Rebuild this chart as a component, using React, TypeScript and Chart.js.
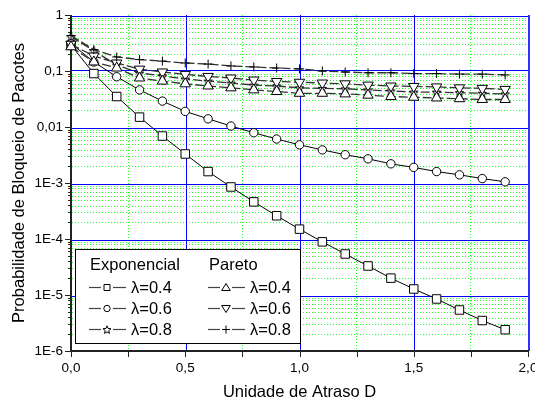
import React, { useEffect, useRef } from 'react';
import { Chart, registerables } from 'chart.js';

Chart.register(...registerables);

// ---- data ----
const delays = [0, 0.1, 0.2, 0.3, 0.4, 0.5, 0.6, 0.7, 0.8, 0.9, 1.0, 1.1, 1.2, 1.3, 1.4, 1.5, 1.6, 1.7, 1.8, 1.9];

const expL04 = [0.29, 0.09, 0.035, 0.015, 0.0069, 0.0033, 0.0016, 8.5e-4, 4.6e-4, 2.6e-4, 1.5e-4, 8.9e-5, 5.4e-5, 3.3e-5, 2.0e-5, 1.28e-5, 8.5e-6, 5.4e-6, 3.5e-6, 2.4e-6];
const expL06 = [0.31, 0.145, 0.079, 0.046, 0.029, 0.019, 0.014, 0.0104, 0.0079, 0.0061, 0.0048, 0.0039, 0.0032, 0.0027, 0.0022, 0.0019, 0.0016, 0.0014, 0.0012, 0.00105];
const expL08 = [0.41, 0.23, 0.128, 0.092, 0.082, 0.072, 0.066, 0.061, 0.056, 0.054, 0.050, 0.049, 0.048, 0.046, 0.044, 0.042, 0.042, 0.041, 0.040, 0.039];
const parL04 = [0.27, 0.145, 0.113, 0.075, 0.066, 0.059, 0.054, 0.050, 0.046, 0.043, 0.040, 0.040, 0.039, 0.037, 0.035, 0.034, 0.033, 0.032, 0.031, 0.031];
const parL06 = [0.30, 0.185, 0.139, 0.108, 0.096, 0.087, 0.080, 0.075, 0.069, 0.065, 0.063, 0.061, 0.059, 0.056, 0.054, 0.053, 0.052, 0.050, 0.049, 0.047];
const parL08 = [0.43, 0.24, 0.178, 0.16, 0.15, 0.139, 0.133, 0.123, 0.118, 0.113, 0.109, 0.100, 0.096, 0.093, 0.093, 0.090, 0.090, 0.088, 0.088, 0.085];

const groupHeaders = ['Exponencial', 'Pareto'];
const seriesLabels = ['λ=0.4', 'λ=0.6', 'λ=0.8'];

const xTickValues = [0, 0.5, 1.0, 1.5, 2.0];
const xTickLabels = ['0,0', '0,5', '1,0', '1,5', '2,0'];
const xMinorValues = [0.25, 0.75, 1.25, 1.75];
const yTickValues = [1e-6, 1e-5, 1e-4, 1e-3, 0.01, 0.1, 1];
const yTickLabels = ['1E-6', '1E-5', '1E-4', '1E-3', '0,01', '0,1', '1'];

const xTitle = 'Unidade de Atraso D';
const yTitle = 'Probabilidade de Bloqueio de Pacotes';

const FONT = '"Liberation Sans", Arial, sans-serif';

function makeStar(size: number) {
  const c = document.createElement('canvas');
  c.width = size;
  c.height = size;
  const g = c.getContext('2d')!;
  const cx = size / 2, cy = size / 2 + 0.5;
  const R = size / 2 - 1, r = R * 0.45;
  g.beginPath();
  for (let i = 0; i < 10; i++) {
    const a = -Math.PI / 2 + (i * Math.PI) / 5;
    const rad = i % 2 === 0 ? R : r;
    const px = cx + Math.cos(a) * rad, py = cy + Math.sin(a) * rad;
    if (i === 0) g.moveTo(px, py); else g.lineTo(px, py);
  }
  g.closePath();
  g.fillStyle = '#fff';
  g.fill();
  g.strokeStyle = '#000';
  g.lineWidth = 1;
  g.stroke();
  return c;
}

function drawMarker(ctx: CanvasRenderingContext2D, kind: string, x: number, y: number) {
  ctx.save();
  ctx.strokeStyle = '#000';
  ctx.fillStyle = '#fff';
  ctx.lineWidth = 1;
  ctx.setLineDash([]);
  ctx.beginPath();
  if (kind === 'rect') {
    ctx.rect(x - 3, y - 3, 6, 6);
  } else if (kind === 'circle') {
    ctx.arc(x, y, 3.2, 0, Math.PI * 2);
  } else if (kind === 'triUp') {
    ctx.moveTo(x, y - 4); ctx.lineTo(x + 4.3, y + 3); ctx.lineTo(x - 4.3, y + 3); ctx.closePath();
  } else if (kind === 'triDown') {
    ctx.moveTo(x, y + 4); ctx.lineTo(x + 4.3, y - 3); ctx.lineTo(x - 4.3, y - 3); ctx.closePath();
  } else if (kind === 'star') {
    const R = 4.2, r = 1.9;
    for (let i = 0; i < 10; i++) {
      const a = -Math.PI / 2 + (i * Math.PI) / 5;
      const rad = i % 2 === 0 ? R : r;
      const px = x + Math.cos(a) * rad, py = y + 0.5 + Math.sin(a) * rad;
      if (i === 0) ctx.moveTo(px, py); else ctx.lineTo(px, py);
    }
    ctx.closePath();
  } else if (kind === 'cross') {
    ctx.moveTo(x - 4, y); ctx.lineTo(x + 4, y); ctx.moveTo(x, y - 4); ctx.lineTo(x, y + 4);
  }
  if (kind !== 'cross') ctx.fill();
  ctx.stroke();
  ctx.restore();
}

function seg(ctx: CanvasRenderingContext2D, x1: number, y1: number, x2: number, y2: number, color: string, width: number, dash: number[]) {
  ctx.save();
  ctx.strokeStyle = color;
  ctx.lineWidth = width;
  ctx.setLineDash(dash);
  ctx.beginPath();
  ctx.moveTo(x1, y1);
  ctx.lineTo(x2, y2);
  ctx.stroke();
  ctx.restore();
}

// snap a colored 1px line onto an even pixel so it keeps its hue in the photograph
function evenPix(p: number) {
  let i = Math.round(p);
  if (i % 2 !== 0) i = p >= i ? i + 1 : i - 1;
  return i + 0.5;
}

const gridPlugin = {
  id: 'originGrid',
  beforeDatasetsDraw(chart: any) {
    const { ctx, chartArea, scales } = chart;
    const { left, right, top, bottom } = chartArea;
    const x = scales.x, y = scales.y;
    const GREEN = '#22ff22';
    const BLUE = '#0000ff';
    // minor green dotted
    for (let d = -6; d < 0; d++) {
      for (let k = 2; k <= 9; k++) {
        const py = evenPix(y.getPixelForValue(k * Math.pow(10, d)));
        seg(ctx, left + 1, py, right, py, GREEN, 1, [1, 2]);
      }
    }
    for (const v of xMinorValues) {
      const px = evenPix(x.getPixelForValue(v));
      seg(ctx, px, top, px, bottom, GREEN, 1, [1, 2]);
    }
    // major blue
    for (const v of yTickValues) {
      if (v === yTickValues[0]) continue;
      const py = evenPix(y.getPixelForValue(v));
      seg(ctx, left, py, right, py, BLUE, 1, []);
    }
    for (const v of xTickValues) {
      if (v === xTickValues[0]) continue;
      const last = v === xTickValues[xTickValues.length - 1];
      if (last) {
        const i0 = Math.floor(x.getPixelForValue(v) / 2) * 2;
        ctx.save();
        ctx.fillStyle = '#3030ff';
        ctx.fillRect(i0, top, 2, bottom - top);
        ctx.restore();
      } else {
        const px = evenPix(x.getPixelForValue(v));
        seg(ctx, px, top, px, bottom, BLUE, 1, []);
      }
    }
    // axes
    seg(ctx, left, top, left, bottom + 1, '#222', 2, []);
    seg(ctx, left - 1, bottom, right + 1, bottom, '#222', 2, []);
    // x ticks
    for (const v of [...xTickValues, ...xMinorValues]) {
      const px = Math.round(x.getPixelForValue(v)) + 0.5;
      seg(ctx, px, bottom, px, bottom + 6, '#222', 1, []);
    }
    // y ticks
    for (const v of yTickValues) {
      const py = Math.round(y.getPixelForValue(v)) + 0.5;
      seg(ctx, left - 6, py, left, py, '#222', 1, []);
    }
    for (let d = -6; d < 0; d++) {
      for (let k = 2; k <= 9; k++) {
        const py = Math.round(y.getPixelForValue(k * Math.pow(10, d))) + 0.5;
        seg(ctx, left - 3, py, left, py, '#222', 1, []);
      }
    }
  },
};

const legendKinds = [
  ['rect', 'circle', 'star'],
  ['triUp', 'triDown', 'cross'],
];

const legendPlugin = {
  id: 'originLegend',
  afterDraw(chart: any) {
    const ctx = chart.ctx as CanvasRenderingContext2D;
    ctx.save();
    const bx = 75.5, by = 249.5, bw = 225, bh = 94;
    ctx.fillStyle = '#fff';
    ctx.fillRect(bx, by, bw, bh);
    ctx.strokeStyle = '#000';
    ctx.lineWidth = 1;
    ctx.setLineDash([]);
    ctx.strokeRect(bx, by, bw, bh);
    ctx.font = `16.5px ${FONT}`;
    ctx.fillStyle = '#000';
    ctx.textBaseline = 'middle';
    const colX = [89, 208];
    const rowY = [287, 308, 329];
    groupHeaders.forEach((h, c) => ctx.fillText(h, colX[c] + 1, 265));
    for (let c = 0; c < 2; c++) {
      for (let r = 0; r < 3; r++) {
        const lx = colX[c], ly = rowY[r] + 0.5;
        seg(ctx, lx, ly, lx + 12, ly, '#444', 1.2, []);
        seg(ctx, lx + 24, ly, lx + 37, ly, '#444', 1.2, []);
        drawMarker(ctx, legendKinds[c][r], lx + 18, ly);
        ctx.fillStyle = '#000';
        ctx.fillText(seriesLabels[r], lx + 42, rowY[r] + 1);
      }
    }
    ctx.restore();
  },
};

export default function App() {
  const ref = useRef<HTMLCanvasElement | null>(null);
  useEffect(() => {
    if (!ref.current) return;
    const star = makeStar(11);
    const mk = (label: string, data: number[], pointStyle: any, radius: number, dashed: boolean, rotation = 0) => ({
      label,
      data: delays.map((d, i) => ({ x: d, y: data[i] })),
      borderColor: dashed ? '#333' : '#000',
      borderWidth: dashed ? 1.3 : 1,
      borderDash: dashed ? [9, 3] : [],
      pointStyle,
      pointRadius: radius,
      pointRotation: rotation,
      pointBackgroundColor: '#fff',
      pointBorderColor: '#000',
      pointBorderWidth: 1,
      clip: false as any,
      tension: 0,
    });
    const chart = new Chart(ref.current, {
      type: 'line',
      data: {
        datasets: [
          mk(`${groupHeaders[1]} ${seriesLabels[2]}`, parL08, 'cross', 4.5, true),
          mk(`${groupHeaders[1]} ${seriesLabels[0]}`, parL04, 'triangle', 6, true),
          mk(`${groupHeaders[1]} ${seriesLabels[1]}`, parL06, 'triangle', 6, true, 180),
          mk(`${groupHeaders[0]} ${seriesLabels[2]}`, expL08, star, 5, true),
          mk(`${groupHeaders[0]} ${seriesLabels[1]}`, expL06, 'circle', 4.2, false),
          mk(`${groupHeaders[0]} ${seriesLabels[0]}`, expL04, 'rect', 6, false),
        ],
      },
      options: {
        responsive: false,
        animation: false,
        devicePixelRatio: 1,
        layout: { padding: { left: 0, right: 6, top: 15, bottom: 0 } },
        plugins: { legend: { display: false }, tooltip: { enabled: false } },
        scales: {
          x: {
            type: 'linear',
            min: 0,
            max: 2,
            grid: { display: false, drawTicks: true, tickLength: 5 },
            border: { display: false },
            afterBuildTicks: (s: any) => { s.ticks = xTickValues.map((v) => ({ value: v })); },
            afterFit: (s: any) => { s.height = 53; s.paddingLeft = 0; s.paddingRight = 0; },
            ticks: {
              autoSkip: false,
              maxRotation: 0,
              padding: 4,
              color: '#000',
              font: { family: FONT, size: 13.5 },
              callback: (v: any) => {
                const i = xTickValues.findIndex((t) => Math.abs(t - Number(v)) < 1e-9);
                return i >= 0 ? xTickLabels[i] : '';
              },
            },
            title: {
              display: true,
              text: xTitle,
              color: '#000',
              font: { family: FONT, size: 16.5 },
              padding: { top: 0, bottom: 2 },
            },
          },
          y: {
            type: 'logarithmic',
            min: 1e-6,
            max: 1,
            grid: { display: false, drawTicks: true, tickLength: 5 },
            border: { display: false },
            afterBuildTicks: (s: any) => { s.ticks = yTickValues.map((v) => ({ value: v })); },
            afterFit: (s: any) => { s.width = 71; s.paddingTop = 0; s.paddingBottom = 0; },
            ticks: {
              autoSkip: false,
              padding: 3,
              color: '#000',
              font: { family: FONT, size: 13.5 },
              callback: (v: any) => {
                const i = yTickValues.findIndex((t) => Math.abs(Math.log10(t) - Math.log10(Number(v))) < 1e-6);
                return i >= 0 ? yTickLabels[i] : '';
              },
            },
            title: {
              display: true,
              text: yTitle,
              color: '#000',
              font: { family: FONT, size: 16.5 },
              padding: { top: 10, bottom: 0 },
            },
          },
        },
      } as any,
      plugins: [gridPlugin, legendPlugin],
    });
    return () => chart.destroy();
  }, []);
  return (
    <div style={{ position: 'absolute', left: 0, top: 0, width: 535, height: 404, background: '#fff' }}>
      <canvas ref={ref} width={535} height={404} style={{ width: 535, height: 404 }} />
    </div>
  );
}
